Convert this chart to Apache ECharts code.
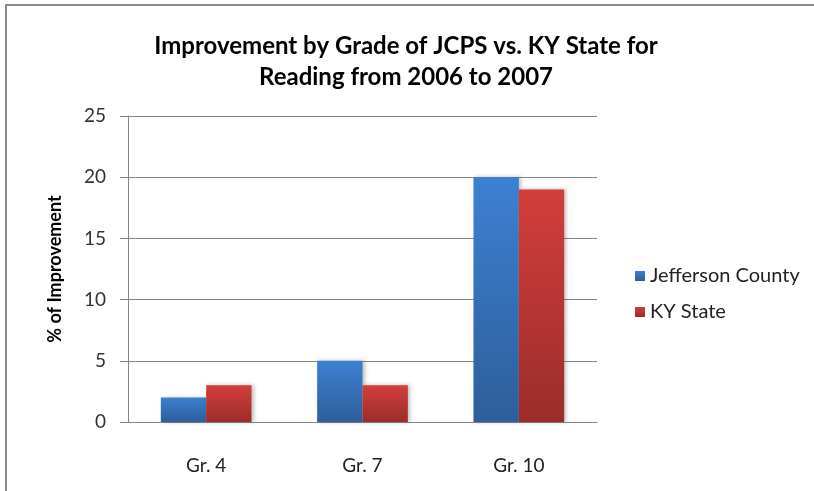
<!DOCTYPE html>
<html>
<head>
<meta charset="utf-8">
<script src="https://cdn.jsdelivr.net/npm/echarts@6/dist/echarts.min.js"></script>
<style>
  html, body { margin: 0; padding: 0; background: #fff; }
  #chart { width: 814px; height: 491px; }
</style>
</head>
<body>
<div id="chart"></div>
<script>
const grades = ["Gr. 4", "Gr. 7", "Gr. 10"];
const jefferson = [2, 5, 20];
const kyState = [3, 3, 19];
const yTicks = [0, 5, 10, 15, 20, 25];

const chart = echarts.init(document.getElementById("chart"));

function grad(top, bottom) {
  return new echarts.graphic.LinearGradient(0, 0, 0, 1, [
    { offset: 0, color: top },
    { offset: 1, color: bottom },
  ]);
}

const font = "Lato, 'Open Sans', sans-serif";

const option = {
  backgroundColor: "#fff",
  animation: false,
  title: {
    text: "Improvement by Grade of JCPS vs. KY State for\nReading from 2006 to 2007",
    left: 401,
    textAlign: "center",
    top: 26,
    textStyle: { fontFamily: font, fontSize: 24, fontWeight: "bold", color: "#000", lineHeight: 31 },
  },
  legend: {
    orient: "vertical",
    left: 630,
    top: 261,
    itemWidth: 10,
    itemHeight: 10,
    itemGap: 16,
    icon: "rect",
    textStyle: { fontFamily: font, fontSize: 20, color: "#222" },
    data: ["Jefferson County", "KY State"],
  },
  grid: { left: 128, right: 217, top: 116, bottom: 69 },
  xAxis: {
    type: "category",
    data: grades,
    axisLine: { lineStyle: { color: "#868686" } },
    axisTick: { show: false },
    axisLabel: { fontFamily: font, fontSize: 19, color: "#222", margin: 34 },
  },
  yAxis: {
    type: "value",
    min: 0,
    max: 25,
    interval: 5,
    name: "% of Improvement",
    nameLocation: "middle",
    nameGap: 64,
    nameTextStyle: { fontFamily: font, fontSize: 18, fontWeight: "bold", color: "#000" },
    axisLine: { show: true, lineStyle: { color: "#868686" } },
    axisTick: { show: true, length: 8, lineStyle: { color: "#868686" } },
    axisLabel: {
      fontFamily: font, fontSize: 19, color: "#333", margin: 22,
      formatter: (v) => (yTicks.includes(v) ? String(v) : ""),
    },
    splitLine: { lineStyle: { color: "#868686" } },
  },
  graphic: [
    {
      type: "rect",
      shape: { x: 6, y: 5, width: 900, height: 600 },
      style: { fill: "none", stroke: "#8a8a8a", lineWidth: 2 },
      z: 100,
    },
  ],
  series: [
    {
      name: "Jefferson County",
      type: "bar",
      data: jefferson,
      barGap: "0%",
      barCategoryGap: "42%",
      itemStyle: {
        color: grad("#3d80d2", "#2e5e9b"),
        shadowColor: "rgba(0,0,0,0.25)",
        shadowBlur: 4,
        shadowOffsetX: 2,
      },
    },
    {
      name: "KY State",
      type: "bar",
      data: kyState,
      itemStyle: {
        color: grad("#d33e3b", "#9a2d2b"),
        shadowColor: "rgba(0,0,0,0.25)",
        shadowBlur: 4,
        shadowOffsetX: 2,
      },
    },
  ],
};

chart.setOption(option);
</script>
</body>
</html>
